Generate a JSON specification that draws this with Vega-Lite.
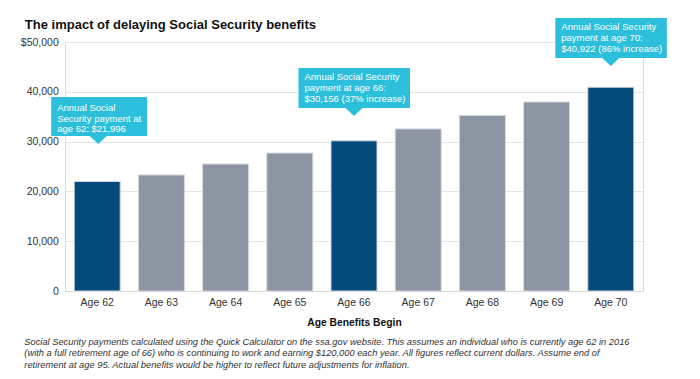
{
  "$schema": "https://vega.github.io/schema/vega-lite/v6.json",
  "padding": {"left": 19, "top": 17, "right": 5, "bottom": 5},
  "background": "white",
  "config": {
    "font": "Liberation Sans",
    "view": {"stroke": "#DADADA", "strokeWidth": 1}
  },
  "title": {
    "text": "The impact of delaying Social Security benefits",
    "anchor": "start",
    "frame": "bounds",
    "fontSize": 13,
    "fontWeight": "bold",
    "color": "#111111",
    "baseline": "bottom",
    "dx": 5,
    "offset": -28
  },
  "datasets": {
    "bars": [
      {"age": "Age 62", "value": 21996},
      {"age": "Age 63", "value": 23300},
      {"age": "Age 64", "value": 25500},
      {"age": "Age 65", "value": 27700},
      {"age": "Age 66", "value": 30156},
      {"age": "Age 67", "value": 32550},
      {"age": "Age 68", "value": 35250},
      {"age": "Age 69", "value": 37950},
      {"age": "Age 70", "value": 40922}
    ],
    "callouts": [
      {"age": "Age 62", "tip": 29500, "label": "Annual Social\nSecurity payment at\nage 62: $21,996"},
      {"age": "Age 66", "tip": 35150, "label": "Annual Social Security\npayment at age 66:\n$30,156 (37% increase)"},
      {"age": "Age 70", "tip": 45200, "label": "Annual Social Security\npayment at age 70:\n$40,922 (86% increase)"}
    ]
  },
  "vconcat": [
    {
      "width": 578,
      "height": 249,
      "title": {
        "text": [
          "Social Security payments calculated using the Quick Calculator on the ssa.gov website. This assumes an individual who is currently age 62 in 2016",
          "(with a full retirement age of 66) who is continuing to work and earning $120,000 each year. All figures reflect current dollars. Assume end of",
          "retirement at age 95. Actual benefits would be higher to reflect future adjustments for inflation."
        ],
        "orient": "bottom",
        "anchor": "start",
        "frame": "bounds",
        "fontSize": 9.3,
        "fontStyle": "italic",
        "fontWeight": "normal",
        "color": "#333333",
        "lineHeight": 11.7,
        "offset": 10,
        "dx": 4
      },
      "layer": [
        {
          "data": {"name": "bars"},
          "mark": {"type": "bar", "stroke": "#D3D9E0", "strokeWidth": 1},
          "encoding": {
            "x": {
              "field": "age",
              "type": "nominal",
              "sort": null,
              "scale": {
                "domain": ["Age 62", "Age 63", "Age 64", "Age 65", "Age 66", "Age 67", "Age 68", "Age 69", "Age 70"],
                "paddingInner": 0.283,
                "paddingOuter": 0.143
              },
              "axis": {
                "title": "Age Benefits Begin",
                "labelAngle": 0,
                "ticks": false,
                "tickSize": 0,
                "labelPadding": 6,
                "labelFontSize": 10.5,
                "labelColor": "#333333",
                "domainColor": "#D9D9D9",
                "titleFontSize": 10.3,
                "titleFontWeight": "bold",
                "titleColor": "#111111",
                "titlePadding": 10
              }
            },
            "y": {
              "field": "value",
              "type": "quantitative",
              "scale": {"domain": [0, 50000], "nice": false},
              "axis": {
                "title": null,
                "values": [0, 10000, 20000, 30000, 40000, 50000],
                "labelExpr": "datum.value == 50000 ? '$50,000' : format(datum.value, ',')",
                "ticks": false,
                "tickSize": 0,
                "labelPadding": 6.7,
                "labelFontSize": 10.5,
                "labelColor": "#333333",
                "gridColor": "#E4E4E4",
                "domainColor": "#D9D9D9"
              }
            },
            "color": {
              "condition": {"test": "indexof(['Age 62','Age 66','Age 70'], datum.age) >= 0", "value": "#044B7B"},
              "value": "#8E95A2"
            }
          }
        },
        {
          "data": {"name": "callouts"},
          "mark": {"type": "point", "filled": true, "opacity": 1, "size": 4, "color": "#2BBFDC"},
          "encoding": {
            "x": {"field": "age", "type": "nominal", "sort": null},
            "y": {"field": "tip", "type": "quantitative"},
            "shape": {
              "field": "age",
              "type": "nominal",
              "scale": {
                "domain": ["Age 62", "Age 66", "Age 70"],
                "range": [
                  "M1,0L-7.5,-8L-46,-8L-46,-47L50,-47L50,-8L9.5,-8Z",
                  "M0,0L-8.5,-8L-55.5,-8L-55.5,-48L56,-48L56,-8L8.5,-8Z",
                  "M0,0L-8.5,-8L-55.5,-8L-55.5,-48L56,-48L56,-8L8.5,-8Z"
                ]
              },
              "legend": null
            }
          }
        },
        {
          "data": {"name": "callouts"},
          "transform": [{"filter": "datum.age == 'Age 62'"}],
          "mark": {"type": "text", "align": "left", "baseline": "top", "dx": -40, "dy": -41, "fontSize": 9.5, "lineHeight": 10.6, "color": "white", "lineBreak": "\n"},
          "encoding": {
            "x": {"field": "age", "type": "nominal", "sort": null},
            "y": {"field": "tip", "type": "quantitative"},
            "text": {"field": "label"}
          }
        },
        {
          "data": {"name": "callouts"},
          "transform": [{"filter": "datum.age != 'Age 62'"}],
          "mark": {"type": "text", "align": "left", "baseline": "top", "dx": -49.5, "dy": -43.5, "fontSize": 9.5, "lineHeight": 10.6, "color": "white", "lineBreak": "\n"},
          "encoding": {
            "x": {"field": "age", "type": "nominal", "sort": null},
            "y": {"field": "tip", "type": "quantitative"},
            "text": {"field": "label"}
          }
        }
      ]
    }
  ]
}
